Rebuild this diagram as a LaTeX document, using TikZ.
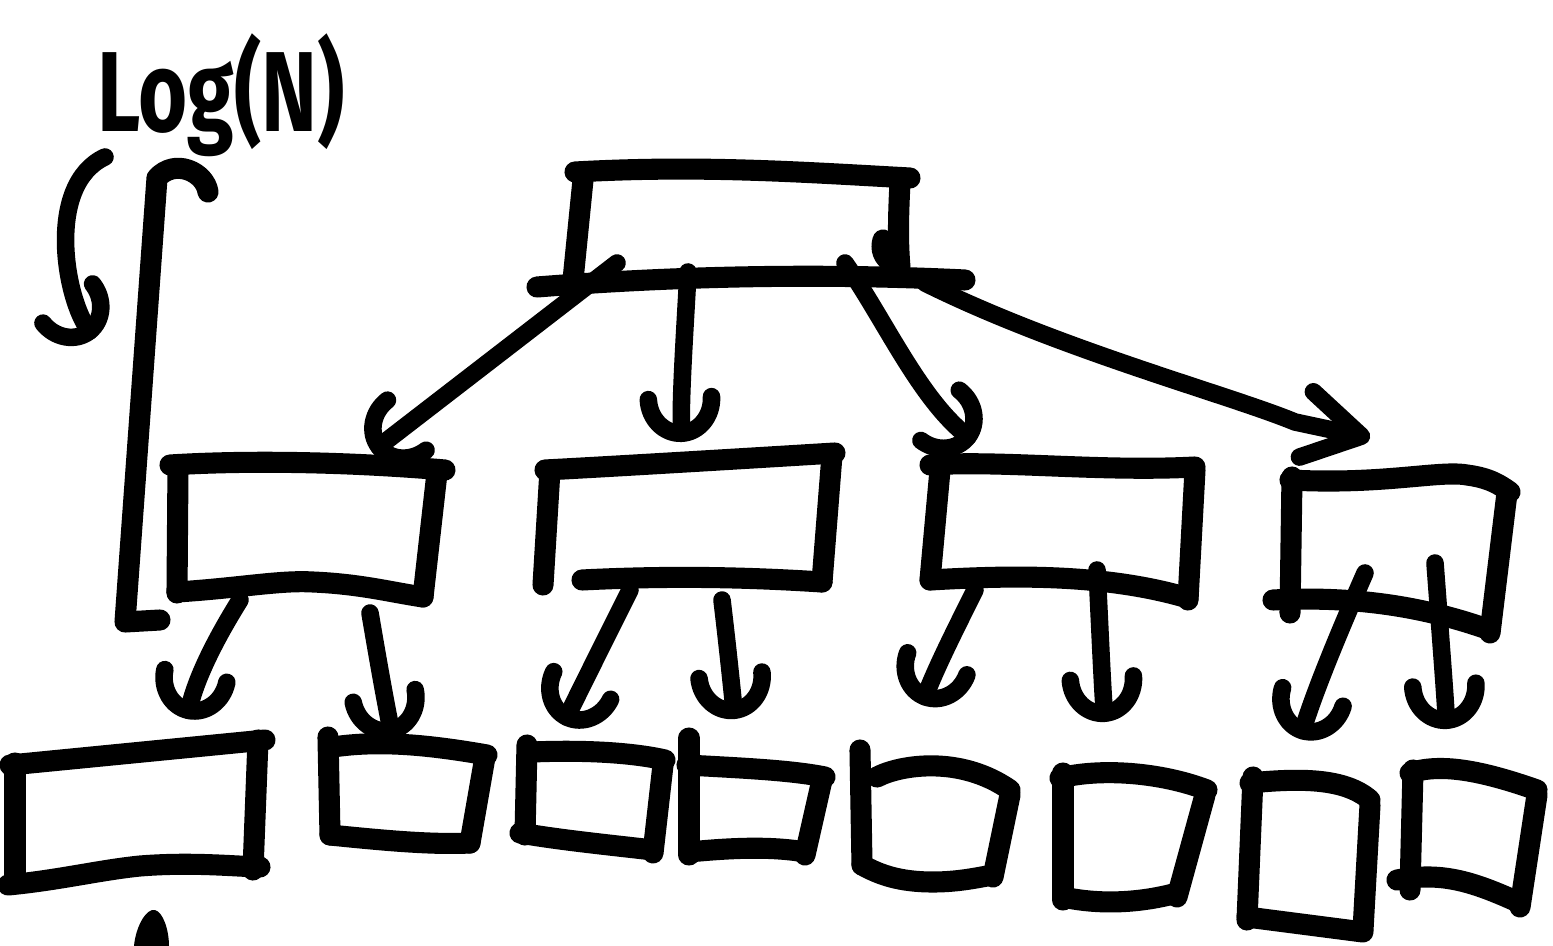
\documentclass[tikz,border=0pt]{standalone}
\usepackage{fontspec}
\newfontfamily\handfont{Fira Sans}
\usetikzlibrary{arrows.meta}
\begin{document}
\begin{tikzpicture}[x=0.02cm,y=-0.02cm,
  ink/.style={line width=12pt,line cap=round,line join=round},
  conn/.style={line width=10pt,line cap=round,line join=round,-{Arc Barb[length=25pt,width=46pt,round]}},
  vconn/.style={line width=10pt,line cap=round,line join=round,-{Straight Barb[length=32pt,width=38pt,round]}},
  lbl/.style={anchor=base west,inner sep=0pt,font=\handfont\bfseries\fontsize{48}{48}\selectfont}]
\useasboundingbox (0,0) rectangle (1553,946);
\fill[white] (0,0) rectangle (1553,946);

% label
\node[lbl] (logn) at (97,132) {\scalebox{1}[1.35]{Log(N)}};

% left bracket
\draw[ink] (208,192) .. controls (205,172) and (175,158) .. (157,178) -- (125,622) -- (160,620);
% curved arrow
\coordinate (ca1) at (105,157);
\coordinate (ca2) at (95,338);
\draw[conn] (ca1) .. controls (45,185) and (65,300) .. (ca2);

% root box
\draw[ink] (575,172) .. controls (700,165) and (800,172) .. (910,178);
\draw[ink] (583,180) -- (573,280);
\draw[ink] (900,183) .. controls (898,220) and (898,245) .. (900,267);
\draw[ink] (883,240) .. controls (880,250) and (884,258) .. (892,263);
\draw[ink] (537,287) .. controls (650,278) and (800,272) .. (965,280);

% middle boxes
\draw[ink] (170,465) .. controls (250,460) and (350,462) .. (445,470);
\draw[ink] (178,467) -- (177,593);
\draw[ink] (437,473) -- (423,597);
\draw[ink] (177,592) .. controls (240,588) and (280,580) .. (313,582) .. controls (360,584) and (390,592) .. (423,597);

\draw[ink] (545,470) .. controls (620,466) and (720,460) .. (835,453);
\draw[ink] (550,470) -- (543,585);
\draw[ink] (832,455) -- (822,582);
\draw[ink] (582,580) .. controls (680,575) and (760,578) .. (822,582);

\draw[ink] (930,465) .. controls (1000,460) and (1100,472) .. (1195,467);
\draw[ink] (940,470) -- (930,580);
\draw[ink] (1195,470) -- (1188,600);
\draw[ink] (930,580) .. controls (1000,576) and (1100,572) .. (1188,598);

\draw[ink] (1290,480) .. controls (1383,485) and (1440,470) .. (1467,475) .. controls (1490,478) and (1500,485) .. (1510,492);
\draw[ink] (1292,477) -- (1290,613);
\draw[ink] (1507,493) -- (1490,633);
\draw[ink] (1273,600) .. controls (1350,596) and (1420,605) .. (1490,630);

% bottom boxes
\draw[ink] (10,765) -- (265,740);
\draw[ink] (15,763) -- (15,877);
\draw[ink] (258,740) -- (253,870);
\draw[ink] (8,885) .. controls (60,880) and (100,870) .. (140,866) .. controls (190,862) and (230,866) .. (260,867);

\draw[ink] (328,737) -- (330,835);
\draw[ink] (333,747) .. controls (380,740) and (430,745) .. (487,755);
\draw[ink] (485,757) -- (470,843);
\draw[ink] (330,835) .. controls (380,840) and (430,845) .. (470,843);

\draw[ink] (532,752) .. controls (580,750) and (630,752) .. (665,760);
\draw[ink] (527,745) -- (525,835);
\draw[ink] (663,765) -- (653,853);
\draw[ink] (520,833) .. controls (560,840) and (610,845) .. (653,850);

\draw[ink] (689,738) -- (689,855);
\draw[ink] (687,765) .. controls (740,768) and (790,770) .. (825,777);
\draw[ink] (822,780) -- (805,855);
\draw[ink] (689,852) .. controls (730,848) and (770,846) .. (805,852);

\draw[ink] (860,750) -- (862,865);
\draw[ink] (877,777) .. controls (900,765) and (960,755) .. (1010,790);
\draw[ink] (1010,795) -- (993,877);
\draw[ink] (862,865) .. controls (880,875) and (900,882) .. (933,882) .. controls (960,882) and (980,877) .. (993,875);

\draw[ink] (1063,773) -- (1063,900);
\draw[ink] (1060,778) .. controls (1100,768) and (1160,772) .. (1207,790);
\draw[ink] (1205,795) -- (1177,897);
\draw[ink] (1063,897) .. controls (1100,905) and (1140,903) .. (1177,893);

\draw[ink] (1253,777) -- (1247,920);
\draw[ink] (1250,783) .. controls (1300,778) and (1345,778) .. (1370,800);
\draw[ink] (1370,805) -- (1363,930);
\draw[ink] (1247,917) -- (1363,932);

\draw[ink] (1413,770) -- (1410,890);
\draw[ink] (1410,773) .. controls (1440,763) and (1480,770) .. (1537,790);
\draw[ink] (1537,795) -- (1520,907);
\draw[ink] (1397,880) .. controls (1440,872) and (1470,880) .. (1520,903);

% blob
\fill (134,946) .. controls (136,925) and (147,908) .. (155,910) .. controls (163,912) and (169,930) .. (169,946) -- cycle;

% connector coordinates
\coordinate (r1) at (617,263);
\coordinate (r2) at (688,272);
\coordinate (r3) at (845,263);
\coordinate (r4) at (925,283);
\coordinate (b1t) at (372,452);
\coordinate (b2t) at (682,442);
\coordinate (b3t) at (975,442);
\coordinate (b4t) at (1370,438);
\coordinate (m1a) at (240,600);  \coordinate (l1t) at (187,719);
\coordinate (m1b) at (370,613);  \coordinate (l2t) at (393,739);
\coordinate (m2a) at (630,590);  \coordinate (l3t) at (563,725);
\coordinate (m2b) at (722,600);  \coordinate (l4t) at (735,719);
\coordinate (m3a) at (975,590);  \coordinate (l5t) at (922,705);
\coordinate (m3b) at (1097,570); \coordinate (l6t) at (1105,722);
\coordinate (m4a) at (1365,573); \coordinate (l7t) at (1300,739);
\coordinate (m4b) at (1435,563); \coordinate (l8t) at (1447,729);

% connectors
\draw[conn] (r1) -- (b1t);
\draw[conn] (r2) .. controls (685,330) and (680,400) .. (b2t);
\draw[conn] (r3) .. controls (885,320) and (920,400) .. (b3t);
\draw[vconn] (r4) .. controls (1060,350) and (1230,395) .. (1295,422) -- (b4t);

\draw[conn] (m1a) .. controls (215,640) and (195,680) .. (l1t);
\draw[conn] (m1b) .. controls (378,660) and (385,700) .. (l2t);
\draw[conn] (m2a) .. controls (605,640) and (580,690) .. (l3t);
\draw[conn] (m2b) .. controls (728,650) and (732,690) .. (l4t);
\draw[conn] (m3a) .. controls (955,630) and (935,670) .. (l5t);
\draw[conn] (m3b) .. controls (1100,630) and (1102,680) .. (l6t);
\draw[conn] (m4a) .. controls (1340,630) and (1315,690) .. (l7t);
\draw[conn] (m4b) .. controls (1440,630) and (1444,680) .. (l8t);
\end{tikzpicture}
\end{document}
